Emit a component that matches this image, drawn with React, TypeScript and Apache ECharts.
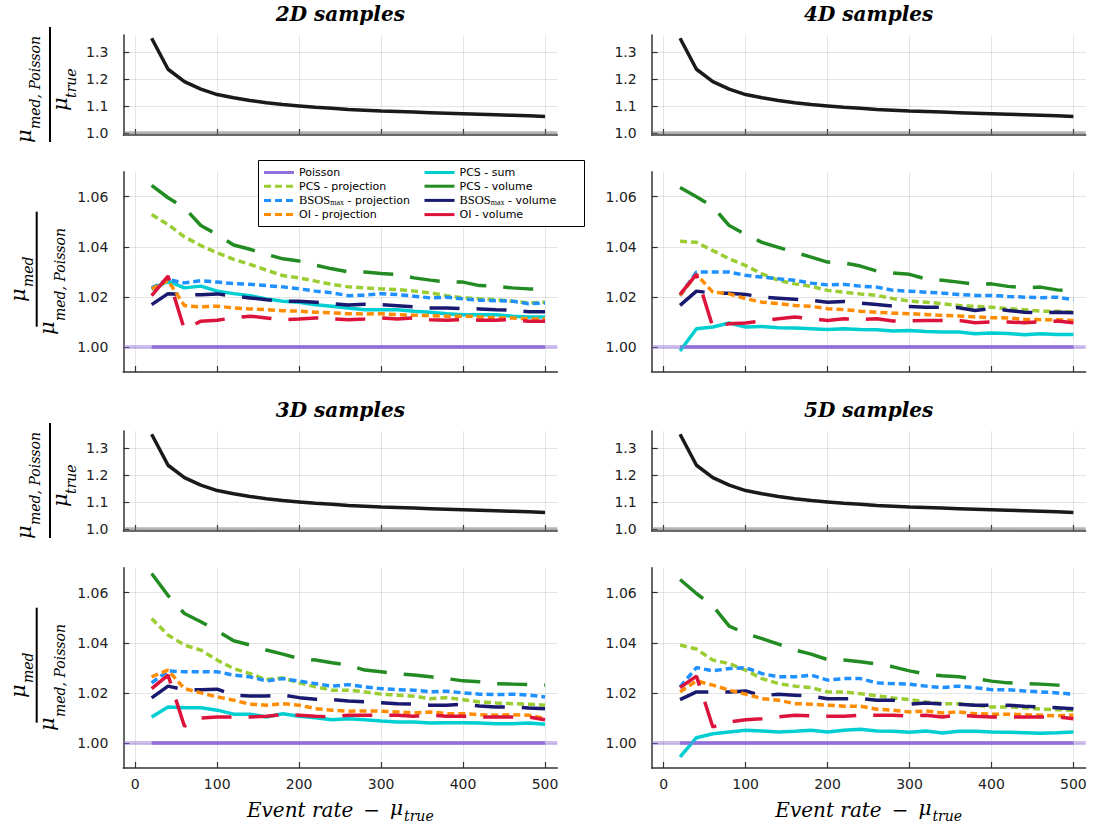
import React, { useEffect, useRef } from "react";
import * as echarts from "echarts";

// ---------------- data ----------------
const eventRates = [20, 40, 60, 80, 100, 120, 140, 160, 180, 200, 220, 240, 260, 280, 300, 320, 340, 360, 380, 400, 420, 440, 460, 480, 500];
const xTickValues = [0, 100, 200, 300, 400, 500];
const topTickValues = [1.0, 1.1, 1.2, 1.3];
const bottomTickValues = [1.0, 1.02, 1.04, 1.06];
const panelTitles = ["2D samples", "4D samples", "3D samples", "5D samples"];

const poissonOverTrue = [1.352, 1.237, 1.191, 1.163, 1.143, 1.131, 1.121, 1.113, 1.106, 1.101, 1.096, 1.092, 1.088, 1.085, 1.082, 1.08, 1.078, 1.076, 1.074, 1.072, 1.07, 1.068, 1.066, 1.064, 1.062];
const poissonRef = [1, 1, 1, 1, 1, 1, 1, 1, 1, 1, 1, 1, 1, 1, 1, 1, 1, 1, 1, 1, 1, 1, 1, 1, 1];

// 2D
const pcsSum2D = [1.023, 1.0263, 1.0236, 1.0243, 1.0223, 1.0213, 1.0205, 1.0192, 1.0183, 1.0179, 1.0169, 1.0163, 1.0156, 1.0149, 1.0149, 1.0149, 1.0143, 1.0139, 1.0133, 1.0129, 1.0129, 1.0129, 1.0123, 1.012, 1.012];
const pcsProj2D = [1.0529, 1.0489, 1.044, 1.0405, 1.0376, 1.035, 1.033, 1.0307, 1.0285, 1.0276, 1.0263, 1.025, 1.024, 1.0236, 1.0232, 1.0229, 1.0223, 1.0216, 1.0205, 1.0196, 1.0193, 1.0189, 1.0183, 1.0176, 1.0179];
const pcsVol2D = [1.0645, 1.0596, 1.0556, 1.0485, 1.0449, 1.0407, 1.039, 1.037, 1.0352, 1.0343, 1.0327, 1.0312, 1.03, 1.0299, 1.0293, 1.0289, 1.0276, 1.0267, 1.0259, 1.0259, 1.0245, 1.0243, 1.0236, 1.0232, 1.0232];
const bsosProj2D = [1.0236, 1.0269, 1.0256, 1.0265, 1.0259, 1.0253, 1.025, 1.0245, 1.024, 1.0232, 1.0223, 1.0216, 1.0205, 1.0207, 1.0213, 1.0209, 1.0203, 1.0196, 1.0199, 1.0192, 1.0187, 1.0185, 1.0183, 1.0173, 1.0176];
const bsosVol2D = [1.0169, 1.0213, 1.0209, 1.0209, 1.0212, 1.0203, 1.0196, 1.0189, 1.0183, 1.0183, 1.0179, 1.0173, 1.0168, 1.0171, 1.0169, 1.0165, 1.016, 1.0156, 1.0156, 1.0153, 1.0152, 1.0149, 1.0147, 1.0141, 1.0141];
const oiProj2D = [1.0232, 1.0265, 1.0165, 1.016, 1.0163, 1.0156, 1.0152, 1.0149, 1.0145, 1.0143, 1.0139, 1.0136, 1.0133, 1.0132, 1.0133, 1.0129, 1.0127, 1.0125, 1.0123, 1.0123, 1.012, 1.0116, 1.0116, 1.0112, 1.0112];
const oiVol2D = [1.0205, 1.0283, 1.0069, 1.0103, 1.0107, 1.0116, 1.0123, 1.0116, 1.0109, 1.0112, 1.0116, 1.0112, 1.0109, 1.0112, 1.0116, 1.0112, 1.0116, 1.0109, 1.0107, 1.0109, 1.0107, 1.0107, 1.0109, 1.0103, 1.0103];

// 4D
const pcsSum4D = [0.9984, 1.0073, 1.008, 1.0096, 1.008, 1.0082, 1.0077, 1.0076, 1.0073, 1.007, 1.0073, 1.007, 1.0069, 1.0064, 1.0066, 1.0062, 1.006, 1.006, 1.0053, 1.0056, 1.0054, 1.0049, 1.0053, 1.005, 1.005];
const pcsProj4D = [1.0422, 1.0418, 1.0385, 1.0352, 1.0325, 1.0292, 1.0266, 1.0252, 1.0242, 1.0226, 1.0219, 1.0212, 1.0206, 1.0193, 1.0183, 1.0179, 1.0173, 1.0166, 1.0162, 1.0159, 1.0153, 1.0149, 1.0143, 1.0143, 1.0139];
const pcsVol4D = [1.0637, 1.06, 1.056, 1.0485, 1.0449, 1.0418, 1.0398, 1.0378, 1.0359, 1.0339, 1.0336, 1.0323, 1.0303, 1.0295, 1.029, 1.0272, 1.0266, 1.0259, 1.025, 1.0252, 1.0242, 1.0236, 1.0239, 1.0228, 1.0223];
const bsosProj4D = [1.0205, 1.0299, 1.0299, 1.0299, 1.0286, 1.0279, 1.0272, 1.0266, 1.0255, 1.0248, 1.025, 1.0243, 1.0239, 1.0226, 1.0223, 1.0219, 1.0215, 1.021, 1.0206, 1.0206, 1.0202, 1.0199, 1.0197, 1.0199, 1.0189];
const bsosVol4D = [1.0166, 1.0223, 1.0215, 1.0215, 1.021, 1.0199, 1.0195, 1.0191, 1.0186, 1.0179, 1.0182, 1.0175, 1.017, 1.0163, 1.0162, 1.0159, 1.0159, 1.0157, 1.0146, 1.0153, 1.0146, 1.0139, 1.0137, 1.0139, 1.0137];
const oiProj4D = [1.0206, 1.029, 1.0219, 1.0212, 1.0193, 1.0179, 1.0173, 1.0166, 1.0162, 1.0153, 1.0149, 1.0143, 1.0139, 1.0135, 1.0133, 1.013, 1.0126, 1.0124, 1.012, 1.0117, 1.0116, 1.011, 1.0109, 1.0109, 1.0106];
const oiVol4D = [1.021, 1.029, 1.008, 1.0093, 1.0096, 1.0104, 1.0113, 1.012, 1.0113, 1.0106, 1.0113, 1.0109, 1.0113, 1.0104, 1.0104, 1.0106, 1.0106, 1.0106, 1.0097, 1.01, 1.01, 1.0097, 1.01, 1.0104, 1.0097];

// 3D
const pcsSum3D = [1.0104, 1.0144, 1.0141, 1.0141, 1.0131, 1.0115, 1.0115, 1.0104, 1.0117, 1.0107, 1.0101, 1.0093, 1.0097, 1.0093, 1.0088, 1.0084, 1.0084, 1.008, 1.0081, 1.0081, 1.008, 1.0077, 1.0077, 1.008, 1.0075];
const pcsProj3D = [1.0497, 1.0431, 1.0391, 1.0371, 1.0331, 1.0297, 1.0277, 1.0253, 1.026, 1.024, 1.0224, 1.0211, 1.0211, 1.0204, 1.0195, 1.0191, 1.0187, 1.0177, 1.0181, 1.0173, 1.0164, 1.016, 1.0157, 1.0155, 1.0151];
const pcsVol3D = [1.0677, 1.0589, 1.0517, 1.0484, 1.0448, 1.0408, 1.0391, 1.0371, 1.0355, 1.0337, 1.0331, 1.032, 1.0311, 1.0291, 1.0284, 1.0277, 1.0271, 1.0264, 1.0257, 1.0248, 1.0244, 1.0237, 1.0235, 1.0233, 1.0231];
const bsosProj3D = [1.024, 1.0288, 1.0284, 1.0284, 1.0284, 1.0271, 1.0264, 1.0248, 1.0257, 1.0247, 1.0237, 1.0227, 1.0233, 1.0224, 1.0217, 1.0213, 1.0211, 1.0204, 1.0207, 1.02, 1.0195, 1.0193, 1.0195, 1.0191, 1.0184];
const bsosVol3D = [1.018, 1.0227, 1.0213, 1.0213, 1.0215, 1.0191, 1.0188, 1.0188, 1.0191, 1.0181, 1.0175, 1.0173, 1.0168, 1.0164, 1.0161, 1.0157, 1.0155, 1.0151, 1.0151, 1.0155, 1.0148, 1.0144, 1.0144, 1.014, 1.0137];
const oiProj3D = [1.0264, 1.0291, 1.0217, 1.02, 1.0184, 1.0171, 1.0155, 1.0151, 1.0157, 1.0151, 1.0137, 1.0131, 1.0127, 1.0128, 1.0127, 1.0124, 1.012, 1.0124, 1.0117, 1.0117, 1.0113, 1.0111, 1.0113, 1.0111, 1.0097];
const oiVol3D = [1.0217, 1.0271, 1.0067, 1.01, 1.0104, 1.0104, 1.0104, 1.0107, 1.0113, 1.0111, 1.0107, 1.0104, 1.0111, 1.0111, 1.0111, 1.0111, 1.0107, 1.0111, 1.0107, 1.0107, 1.0104, 1.0104, 1.0104, 1.0104, 1.0093];

// 5D
const pcsSum5D = [0.9944, 1.0021, 1.0037, 1.0044, 1.0051, 1.0048, 1.0044, 1.0047, 1.0051, 1.0044, 1.0051, 1.0055, 1.0048, 1.0047, 1.0043, 1.0048, 1.004, 1.0047, 1.0047, 1.0044, 1.0043, 1.0041, 1.0039, 1.0041, 1.0044];
const pcsProj5D = [1.0391, 1.0375, 1.0331, 1.0317, 1.0291, 1.0257, 1.0237, 1.0227, 1.0221, 1.0204, 1.0204, 1.0197, 1.0188, 1.018, 1.0173, 1.0164, 1.0157, 1.0157, 1.0151, 1.0144, 1.0144, 1.0141, 1.0135, 1.0133, 1.0131];
const pcsVol5D = [1.0653, 1.0597, 1.0547, 1.0467, 1.0437, 1.0417, 1.0395, 1.0371, 1.0355, 1.0333, 1.0331, 1.0324, 1.0315, 1.0304, 1.0288, 1.0275, 1.0268, 1.0264, 1.0257, 1.0247, 1.024, 1.0237, 1.0235, 1.0231, 1.0227];
const bsosProj5D = [1.0224, 1.0301, 1.0288, 1.0297, 1.0301, 1.0277, 1.0264, 1.0264, 1.0271, 1.0251, 1.0257, 1.0257, 1.024, 1.0237, 1.0235, 1.0227, 1.0221, 1.0227, 1.0221, 1.0213, 1.0213, 1.0208, 1.0204, 1.02, 1.0195];
const bsosVol5D = [1.0173, 1.0204, 1.0204, 1.0204, 1.0208, 1.0188, 1.0195, 1.0191, 1.0187, 1.0177, 1.0177, 1.0177, 1.0171, 1.0171, 1.0155, 1.016, 1.0155, 1.0155, 1.0151, 1.0151, 1.0151, 1.0147, 1.0144, 1.0141, 1.0137];
const oiProj5D = [1.0204, 1.0248, 1.0231, 1.0211, 1.0195, 1.0177, 1.0171, 1.0157, 1.0155, 1.0151, 1.0147, 1.0147, 1.0135, 1.0131, 1.0124, 1.0128, 1.012, 1.0124, 1.0117, 1.0115, 1.0115, 1.0113, 1.0111, 1.0108, 1.0111];
const oiVol5D = [1.0221, 1.0267, 1.0064, 1.0084, 1.0093, 1.0097, 1.0104, 1.0111, 1.0108, 1.0107, 1.0107, 1.0111, 1.0111, 1.0111, 1.0107, 1.0111, 1.0104, 1.0111, 1.0107, 1.0104, 1.0104, 1.0104, 1.0104, 1.0104, 1.0097];

// ---------------- styling ----------------
const DOT = [7, 4];
const DASH = [30, 17];
const seriesDefs = [
  { key: "poisson", name: "Poisson", color: "#9370DB", type: "solid" as any },
  { key: "pcsSum", name: "PCS - sum", color: "#00CED1", type: "solid" as any },
  { key: "pcsProj", name: "PCS - projection", color: "#9ACD32", type: DOT },
  { key: "pcsVol", name: "PCS - volume", color: "#228B22", type: DASH },
  { key: "bsosProj", name: "BSOS_max - projection", color: "#1E90FF", type: DOT },
  { key: "bsosVol", name: "BSOS_max - volume", color: "#191970", type: DASH },
  { key: "oiProj", name: "OI - projection", color: "#FF8C00", type: DOT },
  { key: "oiVol", name: "OI - volume", color: "#DC143C", type: DASH },
];

const panelData: any[] = [
  { poisson: poissonRef, pcsSum: pcsSum2D, pcsProj: pcsProj2D, pcsVol: pcsVol2D, bsosProj: bsosProj2D, bsosVol: bsosVol2D, oiProj: oiProj2D, oiVol: oiVol2D },
  { poisson: poissonRef, pcsSum: pcsSum4D, pcsProj: pcsProj4D, pcsVol: pcsVol4D, bsosProj: bsosProj4D, bsosVol: bsosVol4D, oiProj: oiProj4D, oiVol: oiVol4D },
  { poisson: poissonRef, pcsSum: pcsSum3D, pcsProj: pcsProj3D, pcsVol: pcsVol3D, bsosProj: bsosProj3D, bsosVol: bsosVol3D, oiProj: oiProj3D, oiVol: oiVol3D },
  { poisson: poissonRef, pcsSum: pcsSum5D, pcsProj: pcsProj5D, pcsVol: pcsVol5D, bsosProj: bsosProj5D, bsosVol: bsosVol5D, oiProj: oiProj5D, oiVol: oiVol5D },
];

const COLS = [123.3, 651.7];
const COL_W = 434;
const ROW_DY = [0, 396];
const TOP_T = 35, TOP_H = 100, BOT_T = 171.7, BOT_H = 200.3;
const XMIN = -14.6, XMAX = 515;

function measure(font: string, text: string) {
  const c = document.createElement("canvas").getContext("2d")!;
  c.font = font;
  return c.measureText(text).width;
}

const AX = "#333";
const GRIDC = "rgba(0,0,0,0.1)";
const SERIF = "DejaVu Serif";
const SANS = "DejaVu Sans";

function buildOption() {
  const grids: any[] = [];
  const xAxes: any[] = [];
  const yAxes: any[] = [];
  const series: any[] = [];
  const graphic: any[] = [];

  for (let p = 0; p < 4; p++) {
    const col = p % 2;
    const row = Math.floor(p / 2);
    const left = COLS[col];
    const dy = ROW_DY[row];
    const cx = left + COL_W / 2;
    for (let k = 0; k < 2; k++) {
      const gi = p * 2 + k;
      const isTop = k === 0;
      grids.push({ left, top: (isTop ? TOP_T : BOT_T) + dy, width: COL_W, height: isTop ? TOP_H : BOT_H });
      const showXLabels = !isTop && row === 1;
      xAxes.push({
        type: "value", gridIndex: gi, min: XMIN, max: XMAX,
        axisLine: { show: true, onZero: false, lineStyle: { color: AX, width: 1.5 } },
        axisTick: { show: true, inside: true, length: 6, customValues: xTickValues, lineStyle: { color: AX, width: 1.2 } },
        axisLabel: { show: showXLabels, customValues: xTickValues, margin: 9, fontSize: 14, fontFamily: SANS, color: "#222" },
        splitLine: { show: true, lineStyle: { color: GRIDC, width: 1 } },
      });
      yAxes.push({
        type: "value", gridIndex: gi,
        min: isTop ? 0.993 : 0.99, max: isTop ? 1.364 : 1.07,
        axisLine: { show: true, onZero: false, lineStyle: { color: AX, width: 1.5 } },
        axisTick: { show: true, inside: true, length: 6, customValues: isTop ? topTickValues : bottomTickValues, lineStyle: { color: AX, width: 1.2 } },
        axisLabel: {
          show: true, customValues: isTop ? topTickValues : bottomTickValues, margin: 15, fontSize: 14, fontFamily: SANS, color: "#222",
          formatter: (v: number) => v.toFixed(isTop ? 1 : 2),
        },
        splitLine: { show: true, lineStyle: { color: GRIDC, width: 1 } },
      });
      if (isTop) {
        series.push({
          type: "line", name: "ratio", xAxisIndex: gi, yAxisIndex: gi,
          data: eventRates.map((x, i) => [x, poissonOverTrue[i]]),
          symbol: "none", showSymbol: false, color: "#1a1a1a",
          lineStyle: { color: "#1a1a1a", width: 3.5 },
          markLine: {
            silent: true, symbol: ["none", "none"], label: { show: false },
            lineStyle: { color: "rgba(110,110,110,0.5)", width: 4.5, type: "solid" },
            data: [{ yAxis: 1 }],
          },
        });
      } else {
        const d = panelData[p];
        seriesDefs.forEach((s) => {
          const obj: any = {
            type: "line", name: s.name, xAxisIndex: gi, yAxisIndex: gi,
            data: eventRates.map((x, i) => [x, d[s.key][i]]),
            symbol: "none", showSymbol: false, color: s.color,
            lineStyle: { color: s.color, width: 3.5, type: s.type, cap: "butt" },
          };
          if (s.key === "poisson") {
            obj.markLine = {
              silent: true, symbol: ["none", "none"], label: { show: false },
              lineStyle: { color: "rgba(147,112,219,0.45)", width: 4, type: "solid" },
              data: [{ yAxis: 1 }],
            };
          }
          series.push(obj);
        });
      }
    }

    // panel title
    graphic.push({
      type: "text", x: cx, y: 14 + dy,
      style: {
        text: panelTitles[p], fontSize: 20, fontWeight: "bold", fontStyle: "italic", fontFamily: SERIF, fill: "#000",
        align: "center", verticalAlign: "middle", textAlign: "center", textVerticalAlign: "middle",
      },
    });
  }

  // y-axis labels (left column only)
  const rotText = (x: number, y: number, text: string, size: number) => ({
    type: "text", x, y, rotation: Math.PI / 2,
    style: {
      text, fontSize: size, fontStyle: "italic", fontFamily: SERIF, fill: "#000",
      align: "left", verticalAlign: "middle", textAlign: "left", textVerticalAlign: "middle",
    },
  });
  for (const dy of ROW_DY) {
    // top: mu_{med, Poisson} / mu_{true}
    graphic.push(rotText(24, 143 + dy, "μ", 21));
    graphic.push(rotText(35, 129 + dy, "med, Poisson", 14));
    graphic.push({ type: "line", shape: { x1: 50, y1: 27 + dy, x2: 50, y2: 142 + dy }, style: { stroke: "#000", lineWidth: 2 } });
    graphic.push(rotText(60, 111 + dy, "μ", 21));
    graphic.push(rotText(71, 98 + dy, "true", 14));
    // bottom: mu_med / mu_{med, Poisson}
    graphic.push(rotText(18, 302 + dy, "μ", 21));
    graphic.push(rotText(28, 287 + dy, "med", 14));
    graphic.push({ type: "line", shape: { x1: 36.7, y1: 211.7 + dy, x2: 36.7, y2: 326.7 + dy }, style: { stroke: "#000", lineWidth: 2 } });
    graphic.push(rotText(47, 335 + dy, "μ", 21));
    graphic.push(rotText(60, 321 + dy, "med, Poisson", 14));
  }

  // x-axis titles
  const fIt = `italic 20px "${SERIF}"`;
  const fOp = `20px "${SERIF}"`;
  const fSub = `italic 14px "${SERIF}"`;
  const wE = measure(fIt, "Event rate");
  const wOp = measure(fOp, "−");
  const wMu = measure(fIt, "μ");
  const wSub = measure(fSub, "true");
  const gap = 10;
  const total = wE + gap + wOp + gap + wMu + 1 + wSub;
  for (let col = 0; col < 2; col++) {
    const cx = COLS[col] + COL_W / 2;
    let x = cx - total / 2;
    const y = 810;
    const t = (tx: number, ty: number, text: string, size: number, italic: boolean) => ({
      type: "text", x: tx, y: ty,
      style: {
        text, fontSize: size, fontStyle: italic ? "italic" : "normal", fontFamily: SERIF, fill: "#000",
        align: "left", verticalAlign: "middle", textAlign: "left", textVerticalAlign: "middle",
      },
    });
    graphic.push(t(x, y, "Event rate", 20, true));
    x += wE + gap;
    graphic.push(t(x, y, "−", 20, false));
    x += wOp + gap;
    graphic.push(t(x, y - 2, "μ", 20, true));
    x += wMu + 1;
    graphic.push(t(x, y + 6, "true", 14, true));
  }

  // legend frame
  graphic.push({
    type: "rect", z: 3,
    shape: { x: 258.5, y: 160.5, width: 326, height: 66 },
    style: { fill: "#fff", stroke: "#000", lineWidth: 1 },
  });

  const legendCommon = {
    orient: "vertical", itemWidth: 30, itemHeight: 12, itemGap: 1.7, padding: 0, selectedMode: false, z: 5,
    lineStyle: { width: 3 },
    itemStyle: { opacity: 0, borderWidth: 0 },
    textStyle: {
      fontSize: 11, fontFamily: SANS, color: "#000", lineHeight: 12,
      rich: {
        s: { fontFamily: "Liberation Serif", fontSize: 12.5, color: "#000", lineHeight: 12 },
        m: { fontFamily: "Liberation Serif", fontSize: 8, color: "#000", lineHeight: 8, verticalAlign: "bottom" },
        t: { fontFamily: SANS, fontSize: 11, color: "#000", lineHeight: 12 },
      },
    },
    formatter: (n: string) => (n.startsWith("BSOS_max") ? `{s|BSOS}{m|max}{t|${n.slice(8)}}` : n),
  };

  return {
    animation: false,
    backgroundColor: "#fff",
    grid: grids,
    xAxis: xAxes,
    yAxis: yAxes,
    series,
    graphic: { elements: graphic },
    legend: [
      { ...legendCommon, left: 262.5, top: 166.5, data: ["Poisson", "PCS - projection", "BSOS_max - projection", "OI - projection"] },
      { ...legendCommon, left: 423, top: 166.5, data: ["PCS - sum", "PCS - volume", "BSOS_max - volume", "OI - volume"] },
    ],
  };
}

export default function App() {
  const ref = useRef<HTMLDivElement>(null);
  useEffect(() => {
    if (!ref.current) return;
    const chart = echarts.init(ref.current, undefined, { renderer: "svg" });
    chart.setOption(buildOption() as any);
    return () => chart.dispose();
  }, []);
  return (
    <div
      ref={ref}
      style={{ position: "absolute", left: 0, top: 0, width: 1094, height: 828, background: "#fff" }}
    />
  );
}
